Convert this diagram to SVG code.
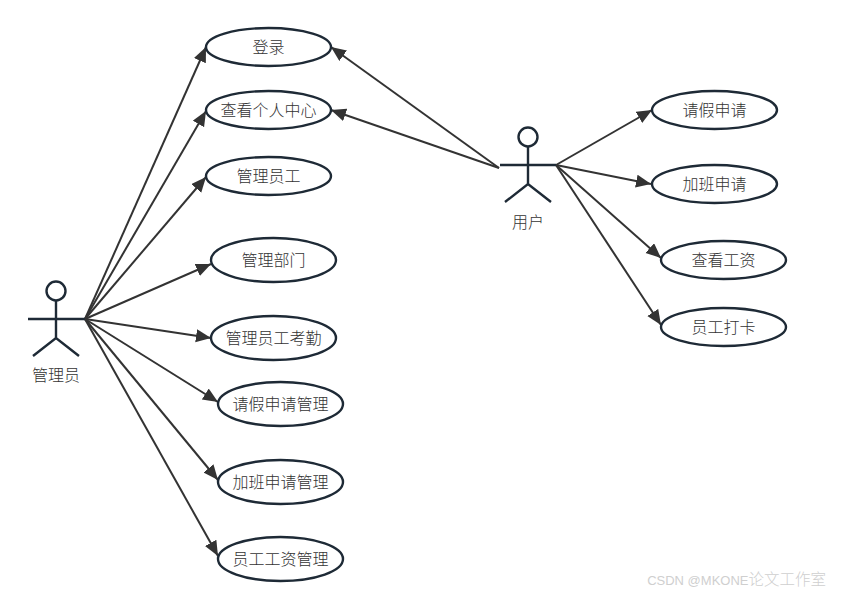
<svg xmlns="http://www.w3.org/2000/svg" width="843" height="595" viewBox="0 0 843 595">
<defs>
<style>
.uc{fill:#fff;stroke:#1e2a36;stroke-width:2.4}
.act{fill:none;stroke:#1e2a36;stroke-width:2.4}
.t{font-family:"Noto Sans CJK SC","Liberation Sans",sans-serif;font-size:16px;font-weight:300;fill:#333;text-anchor:middle}
.c{fill:none;stroke:#333;stroke-width:2;marker-end:url(#a)}
.wm{font-family:"Liberation Sans","Noto Sans CJK SC",sans-serif;font-size:13px;fill:#cfcfcf;text-anchor:end}
.wc{font-size:15.500px;font-weight:300}
</style>
<marker id="a" markerUnits="userSpaceOnUse" markerWidth="17" markerHeight="14" refX="15" refY="6.500" orient="auto"><path d="M0 0L15 6.500L0 13Z" fill="#333"/></marker>
</defs>
<rect width="843" height="595" fill="#fff"/>
<g id="connectors">
<path class="c" d="M85 319L206 47"/>
<path class="c" d="M85 319L206 111"/>
<path class="c" d="M85 319L206 177"/>
<path class="c" d="M85 319L211 264"/>
<path class="c" d="M85 319L211 338"/>
<path class="c" d="M85 319L218 402"/>
<path class="c" d="M85 319L218 480"/>
<path class="c" d="M85 319L218 556"/>
<path class="c" d="M499 168L331 47"/>
<path class="c" d="M499 168L331 110"/>
<path class="c" d="M556 165L652 110"/>
<path class="c" d="M556 165L651 184"/>
<path class="c" d="M556 165L661 258"/>
<path class="c" d="M556 165L661 325"/>
</g>
<g id="actor-admin"><circle class="act" cx="56" cy="291" r="9.500"/><path class="act" d="M56 301V338M28 319H85M33 356L56 338L79 356"/><text class="t" x="56" y="381">管理员</text></g>
<g id="actor-user"><circle class="act" cx="528" cy="137" r="9.500"/><path class="act" d="M528 147V184M500 165H556M505 202L528 184L551 202"/><text class="t" x="528" y="228">用户</text></g>
<g id="uc-login"><ellipse class="uc" cx="268.500" cy="47" rx="62.500" ry="19"/><text class="t" x="268.500" y="53">登录</text></g>
<g id="uc-center"><ellipse class="uc" cx="268.500" cy="110" rx="62.500" ry="19"/><text class="t" x="268.500" y="116">查看个人中心</text></g>
<g id="uc-emp"><ellipse class="uc" cx="268.500" cy="176" rx="62.500" ry="19"/><text class="t" x="268.500" y="182">管理员工</text></g>
<g id="uc-dept"><ellipse class="uc" cx="273.500" cy="260" rx="62.500" ry="22"/><text class="t" x="273.500" y="266">管理部门</text></g>
<g id="uc-att"><ellipse class="uc" cx="273.500" cy="338" rx="62.500" ry="22"/><text class="t" x="273.500" y="344">管理员工考勤</text></g>
<g id="uc-leave"><ellipse class="uc" cx="280.500" cy="404" rx="62.500" ry="22"/><text class="t" x="280.500" y="410">请假申请管理</text></g>
<g id="uc-ot"><ellipse class="uc" cx="280.500" cy="482" rx="62.500" ry="22"/><text class="t" x="280.500" y="488">加班申请管理</text></g>
<g id="uc-pay"><ellipse class="uc" cx="280.500" cy="559" rx="62.500" ry="22"/><text class="t" x="280.500" y="565">员工工资管理</text></g>
<g id="uc-r1"><ellipse class="uc" cx="714.500" cy="110" rx="62.500" ry="19"/><text class="t" x="714.500" y="116">请假申请</text></g>
<g id="uc-r2"><ellipse class="uc" cx="714.500" cy="184" rx="62.500" ry="19"/><text class="t" x="714.500" y="190">加班申请</text></g>
<g id="uc-r3"><ellipse class="uc" cx="723.500" cy="260" rx="62.500" ry="19"/><text class="t" x="723.500" y="266">查看工资</text></g>
<g id="uc-r4"><ellipse class="uc" cx="723.500" cy="327" rx="62.500" ry="19"/><text class="t" x="723.500" y="333">员工打卡</text></g>
<text class="wm" x="826" y="585">CSDN @MKONE<tspan class="wc">论文工作室</tspan></text>
</svg>
